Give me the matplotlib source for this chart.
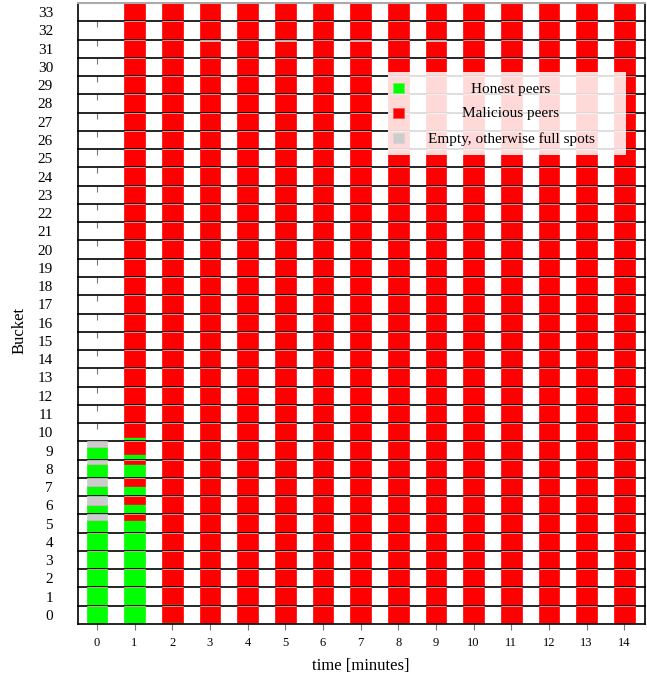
import numpy as np
import matplotlib
matplotlib.use("Agg")
import matplotlib.pyplot as plt
from matplotlib.patches import Rectangle

plt.rcParams['font.family'] = ['Liberation Serif', 'DejaVu Serif']

# --- DADOS ---
times = list(range(15))
buckets = list(range(34))

# minuto 0: so os buckets 0..9 tem pares (o resto vazio)
honest_t0 = [1, 1, 1, 1, 1, 0.72, 0.5, 0.55, 0.78, 0.7]
empty_t0 = [0, 0, 0, 0, 0, 0.28, 0.5, 0.45, 0.22, 0.3]

# minuto 1: buckets 0..10, acima disso tudo malicioso
honest_t1 = [1, 1, 1, 1, 1, 0.69, 0.55, 0.55, 0.78, 0.33, 0.22]
honest_t1_slivers = {12: 0.05, 19: 0.05}

# minuto 2: restos de pares honestos nos buckets baixos
honest_t2 = [0.1, 0.12, 0.08, 0.03]

# lugares vazios no bucket 31
gap_times = [3, 5, 7, 9]
gap_bucket = 31
gap_size = 0.08

labels = ['Honest peers', 'Malicious peers', 'Empty, otherwise full spots']

# --- MATRIZES (tempo x bucket) ---
H = np.zeros((len(times), len(buckets)))
E = np.zeros((len(times), len(buckets)))
H[0, :len(honest_t0)] = honest_t0
E[0, :len(empty_t0)] = empty_t0
H[1, :len(honest_t1)] = honest_t1
for b, v in honest_t1_slivers.items():
    H[1, b] = v
H[2, :len(honest_t2)] = honest_t2
for t in gap_times:
    E[t, gap_bucket] = gap_size
M = 1 - H - E
M[0, :] = 0

GREEN = '#00ff00'
RED = '#ff0000'
GREY = '#cccccc'
colors = [GREEN, RED, GREY]
edge_colors = ['#55ff55', '#ff5555', '#d5d5d5']

fig, axes = plt.subplots(len(buckets), 1, sharex=True, figsize=(6.47, 6.78), dpi=100)
fig.subplots_adjust(left=0.1206, right=0.997, top=0.9956, bottom=0.0796, hspace=0)

# um eixo por bucket, de cima (33) para baixo (0)
for i, ax in enumerate(axes):
    b = buckets[-1 - i]
    ax.set_facecolor('none')
    ax.bar(times, H[:, b], width=0.55, color=GREEN, edgecolor=GREEN, linewidth=0.5)
    ax.bar(times, M[:, b], bottom=H[:, b], width=0.55, color=RED, edgecolor=RED, linewidth=0.5)
    ax.bar(times, E[:, b], bottom=H[:, b] + M[:, b], width=0.55, color=GREY, edgecolor=GREY, linewidth=0.5)
    ax.set_ylim(0, 1)
    ax.set_xlim(-0.5, 14.55)
    ax.set_yticks([0.5])
    ax.set_yticklabels([str(b)], fontsize=11)
    ax.tick_params(axis='y', length=0, pad=18)
    ax.tick_params(axis='x', direction='out', length=4, width=0.8, color='#777777', pad=5, labelsize=9)
    for side in ['left', 'right', 'bottom']:
        ax.spines[side].set_color('black')
        ax.spines[side].set_linewidth(1.2)
    if i == 0:
        ax.spines['top'].set_color('#aaaaaa')
        ax.spines['top'].set_linewidth(1.5)
    else:
        ax.spines['top'].set_visible(False)

axes[-1].set_xticks(times)
axes[-1].set_xticklabels([str(t) for t in times])

fig.text(0.558, 0.018, 'time [minutes]', ha='center', va='center', fontsize=12)
fig.text(0.03, 0.513, 'Bucket', ha='center', va='center', rotation=90, fontsize=12)

# --- LEGENDA (texto centrado, como no original) ---
W, Hpx = 647, 678
fig.add_artist(Rectangle((388 / W, 1 - 155 / Hpx), (626 - 388) / W, (155 - 72) / Hpx,
                         transform=fig.transFigure, facecolor='white', alpha=0.85,
                         edgecolor='none', zorder=10))
for k, (lab, col, ec) in enumerate(zip(labels, colors, edge_colors)):
    yc = 88 + 25 * k
    fig.add_artist(Rectangle((393 / W, 1 - (yc + 5) / Hpx), 11 / W, 10 / Hpx,
                             transform=fig.transFigure, facecolor=col,
                             edgecolor=ec, linewidth=0.6, zorder=11))
    fig.text(511 / W, 1 - (yc + 1) / Hpx, lab, ha='center', va='center', fontsize=11, zorder=12)

plt.savefig("out.png", dpi=100)
